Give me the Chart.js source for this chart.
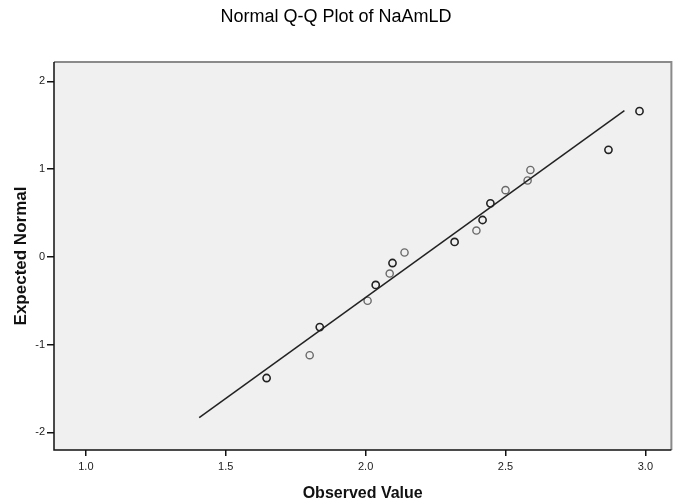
<!DOCTYPE html>
<html>
<head>
<meta charset="utf-8">
<script src="https://cdn.jsdelivr.net/npm/chart.js@4"></script>
<style>
  html, body { margin: 0; padding: 0; background: #fff; }
  #wrap { width: 677px; height: 503px; }
</style>
</head>
<body>
<div id="wrap"><canvas id="qq" width="677" height="503"></canvas></div>
<script>
// Valores leidos del grafico (Observed Value / Expected Normal)
// puntos simples
const obsX = [1.80, 2.007, 2.086, 2.139, 2.396, 2.50, 2.579, 2.589];
const expY = [-1.12, -0.50, -0.19, 0.05, 0.30, 0.76, 0.87, 0.99];
// puntos superpuestos (mas oscuros)
const obsX2 = [1.646, 1.836, 2.036, 2.096, 2.318, 2.418, 2.446, 2.868, 2.979];
const expY2 = [-1.38, -0.80, -0.32, -0.07, 0.17, 0.42, 0.61, 1.22, 1.66];
// linea de referencia normal
const lineX = [1.405, 2.925];
const lineY = [-1.83, 1.665];
// ticks
const xTicks = [1.0, 1.5, 2.0, 2.5, 3.0];
const yTicks = [-2, -1, 0, 1, 2];

const FONT = 'Arial, "Liberation Sans", sans-serif';

const toPts = (xs, ys) => xs.map((x, i) => ({ x: x, y: ys[i] }));

// fondo gris y borde del area de datos
const plotFrame = {
  id: 'plotFrame',
  beforeDatasetsDraw(chart) {
    const { ctx, chartArea: a } = chart;
    ctx.save();
    ctx.fillStyle = '#f0f0f0';
    ctx.fillRect(a.left, a.top, a.right - a.left, a.bottom - a.top);
    ctx.restore();
  },
  afterDatasetsDraw(chart) {
    const { ctx, chartArea: a } = chart;
    ctx.save();
    ctx.lineWidth = 2;
    ctx.strokeStyle = '#8a8a8a';
    ctx.beginPath();
    ctx.moveTo(a.left, a.top);
    ctx.lineTo(a.right, a.top);
    ctx.lineTo(a.right, a.bottom);
    ctx.stroke();
    ctx.strokeStyle = '#111';
    ctx.lineWidth = 1.5;
    ctx.beginPath();
    ctx.moveTo(a.left, a.top);
    ctx.lineTo(a.left, a.bottom);
    ctx.lineTo(a.right, a.bottom);
    ctx.stroke();
    ctx.restore();
  }
};

new Chart(document.getElementById('qq'), {
  type: 'scatter',
  data: {
    datasets: [
      {
        label: 'line',
        data: toPts(lineX, lineY),
        showLine: true,
        borderColor: '#222',
        borderWidth: 1.5,
        pointRadius: 0
      },
      {
        label: 'obs',
        data: toPts(obsX, expY),
        pointRadius: 3.6,
        pointBorderWidth: 1.4,
        pointBackgroundColor: 'rgba(0,0,0,0)',
        pointBorderColor: '#6a6a6a'
      },
      {
        label: 'obs2',
        data: toPts(obsX2, expY2),
        pointRadius: 3.6,
        pointBorderWidth: 1.6,
        pointBackgroundColor: 'rgba(0,0,0,0)',
        pointBorderColor: '#222'
      }
    ]
  },
  options: {
    responsive: false,
    animation: false,
    layout: { padding: { left: 0, right: 5, top: 0, bottom: 0 } },
    plugins: {
      legend: { display: false },
      tooltip: { enabled: false },
      title: {
        display: true,
        text: 'Normal Q-Q Plot of NaAmLD',
        color: '#000',
        font: { family: FONT, size: 18, weight: 'normal' },
        padding: { top: 6, bottom: 34.4 }
      }
    },
    scales: {
      x: {
        type: 'linear',
        min: 0.886,
        max: 3.093,
        afterBuildTicks: (s) => { s.ticks = xTicks.map(v => ({ value: v })); },
        afterFit: (s) => { s.height = 53; },
        grid: { drawOnChartArea: false, drawTicks: true, tickLength: 6, color: '#111', lineWidth: 1.5 },
        border: { display: false },
        ticks: {
          color: '#222',
          padding: 4,
          font: { family: FONT, size: 11 },
          callback: (v) => Number(v).toFixed(1)
        },
        title: {
          display: true,
          text: 'Observed Value',
          color: '#111',
          font: { family: FONT, size: 16, weight: 'bold' },
          padding: { top: 6, bottom: 0 }
        }
      },
      y: {
        type: 'linear',
        min: -2.2,
        max: 2.22,
        afterBuildTicks: (s) => { s.ticks = yTicks.map(v => ({ value: v })); },
        afterFit: (s) => { s.width = 54; },
        grid: { drawOnChartArea: false, drawTicks: true, tickLength: 7, color: '#111', lineWidth: 1.5 },
        border: { display: false },
        ticks: {
          color: '#222',
          padding: 2,
          font: { family: FONT, size: 11 },
          callback: (v) => String(v)
        },
        title: {
          display: true,
          text: 'Expected Normal',
          color: '#111',
          font: { family: FONT, size: 17, weight: 'bold' },
          padding: { top: 11, bottom: 0 }
        }
      }
    }
  },
  plugins: [plotFrame]
});
</script>
</body>
</html>
